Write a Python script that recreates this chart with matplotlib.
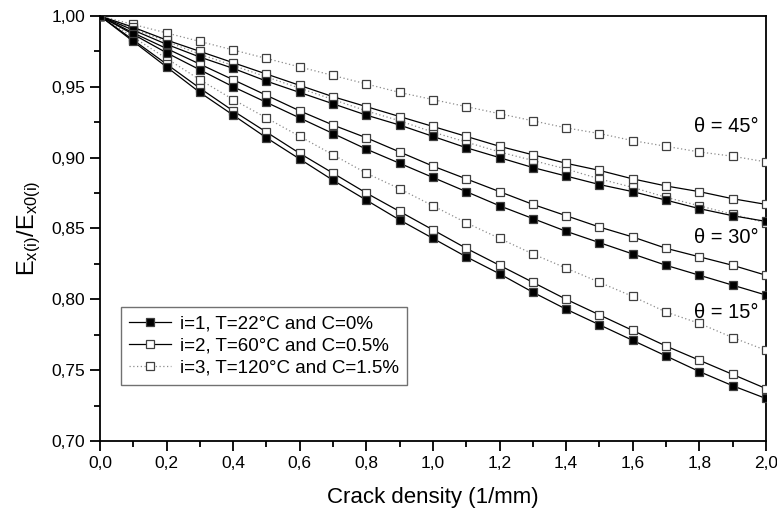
import matplotlib
matplotlib.use("Agg")
import matplotlib.pyplot as plt
from matplotlib.ticker import MultipleLocator, FuncFormatter

plt.rcParams['font.family'] = ['Liberation Sans', 'DejaVu Sans']
plt.rcParams['mathtext.fontset'] = 'custom'
plt.rcParams['mathtext.rm'] = 'Liberation Sans'
plt.rcParams['mathtext.it'] = 'Liberation Sans'

# crack density (1/mm)
density = [0.0, 0.1, 0.2, 0.3, 0.4, 0.5, 0.6, 0.7, 0.8, 0.9, 1.0,
           1.1, 1.2, 1.3, 1.4, 1.5, 1.6, 1.7, 1.8, 1.9, 2.0]

# theta = 45 deg
e45_i1 = [1.0, 0.990, 0.980, 0.971, 0.963, 0.954, 0.946, 0.938, 0.930, 0.923, 0.915,
          0.907, 0.900, 0.893, 0.887, 0.881, 0.876, 0.870, 0.864, 0.859, 0.855]
e45_i2 = [1.0, 0.992, 0.983, 0.975, 0.967, 0.959, 0.951, 0.943, 0.936, 0.929, 0.922,
          0.915, 0.908, 0.902, 0.896, 0.891, 0.885, 0.880, 0.876, 0.871, 0.867]
e45_i3 = [1.0, 0.994, 0.988, 0.982, 0.976, 0.970, 0.964, 0.958, 0.952, 0.946, 0.941,
          0.936, 0.931, 0.926, 0.921, 0.917, 0.912, 0.908, 0.904, 0.901, 0.897]

# theta = 30 deg
e30_i1 = [1.0, 0.987, 0.974, 0.962, 0.950, 0.939, 0.928, 0.917, 0.906, 0.896, 0.886,
          0.876, 0.866, 0.857, 0.848, 0.840, 0.832, 0.824, 0.817, 0.810, 0.803]
e30_i2 = [1.0, 0.988, 0.977, 0.966, 0.955, 0.944, 0.933, 0.923, 0.914, 0.904, 0.894,
          0.885, 0.876, 0.867, 0.859, 0.851, 0.844, 0.836, 0.830, 0.824, 0.817]
e30_i3 = [1.0, 0.991, 0.982, 0.973, 0.965, 0.957, 0.949, 0.941, 0.933, 0.926, 0.918,
          0.911, 0.904, 0.898, 0.892, 0.885, 0.879, 0.872, 0.866, 0.860, 0.854]

# theta = 15 deg
e15_i1 = [1.0, 0.982, 0.964, 0.946, 0.930, 0.914, 0.899, 0.884, 0.870, 0.856, 0.843,
          0.830, 0.818, 0.805, 0.793, 0.782, 0.771, 0.760, 0.749, 0.739, 0.730]
e15_i2 = [1.0, 0.983, 0.966, 0.949, 0.933, 0.918, 0.903, 0.889, 0.875, 0.862, 0.849,
          0.836, 0.824, 0.812, 0.800, 0.789, 0.778, 0.767, 0.757, 0.747, 0.737]
e15_i3 = [1.0, 0.985, 0.970, 0.955, 0.941, 0.928, 0.915, 0.902, 0.889, 0.878, 0.866,
          0.854, 0.843, 0.832, 0.822, 0.812, 0.802, 0.791, 0.783, 0.773, 0.764]

labels = ['i=1, T=22°C and C=0%', 'i=2, T=60°C and C=0.5%', 'i=3, T=120°C and C=1.5%']
angle_labels = ['θ = 45°', 'θ = 30°', 'θ = 15°']
angle_label_y = [0.922, 0.8435, 0.791]

styles = [
    dict(color='black', linestyle='-', linewidth=0.9, marker='s', markersize=6,
         markerfacecolor='black', markeredgecolor='0.25', markeredgewidth=0.9),
    dict(color='black', linestyle='-', linewidth=0.9, marker='s', markersize=6,
         markerfacecolor='white', markeredgecolor='0.25', markeredgewidth=0.9),
    dict(color='0.55', linestyle=(0, (1, 2)), linewidth=0.9, marker='s', markersize=6,
         markerfacecolor='white', markeredgecolor='0.25', markeredgewidth=0.9),
]

fig = plt.figure(figsize=(7.77, 5.15), dpi=100)
ax = fig.add_axes([0.1287, 0.1437, 0.8571, 0.8253])

groups = [(e45_i1, e45_i2, e45_i3), (e30_i1, e30_i2, e30_i3), (e15_i1, e15_i2, e15_i3)]
handles = []
for g, series in enumerate(groups):
    for k, ys in enumerate(series):
        ln, = ax.plot(density, ys, **styles[k], zorder=3 - k * 0.1)
        if g == 0:
            handles.append(ln)

ax.set_xlim(0.0, 2.0)
ax.set_ylim(0.70, 1.00)
ax.xaxis.set_major_locator(MultipleLocator(0.2))
ax.xaxis.set_minor_locator(MultipleLocator(0.1))
ax.yaxis.set_major_locator(MultipleLocator(0.05))
ax.yaxis.set_minor_locator(MultipleLocator(0.025))
ax.xaxis.set_major_formatter(FuncFormatter(lambda v, p: f'{v:.1f}'.replace('.', ',')))
ax.yaxis.set_major_formatter(FuncFormatter(lambda v, p: f'{v:.2f}'.replace('.', ',')))
ax.tick_params(which='both', direction='out', top=False, right=False, width=1.3)
ax.tick_params(which='major', length=7, labelsize=12.5)
ax.tick_params(which='minor', length=4)
for s in ax.spines.values():
    s.set_linewidth(1.3)

ax.set_xlabel('Crack density (1/mm)', fontsize=16, labelpad=12)
ax.set_ylabel(r'E$_{\mathrm{x(i)}}$/E$_{\mathrm{x0(i)}}$', fontsize=17, labelpad=6)

for txt, yv in zip(angle_labels, angle_label_y):
    ax.text(1.88, yv, txt, fontsize=14.5, ha='center', va='center', zorder=5)

leg = ax.legend(handles, labels, loc='lower left', bbox_to_anchor=(0.0315, 0.132),
                borderaxespad=0, fontsize=13.5, frameon=True, fancybox=False,
                edgecolor='0.3', handlelength=2.2, borderpad=0.45, labelspacing=0.25,
                handletextpad=0.5)
leg.get_frame().set_linewidth(1.0)

fig.savefig('out.png', dpi=100)
